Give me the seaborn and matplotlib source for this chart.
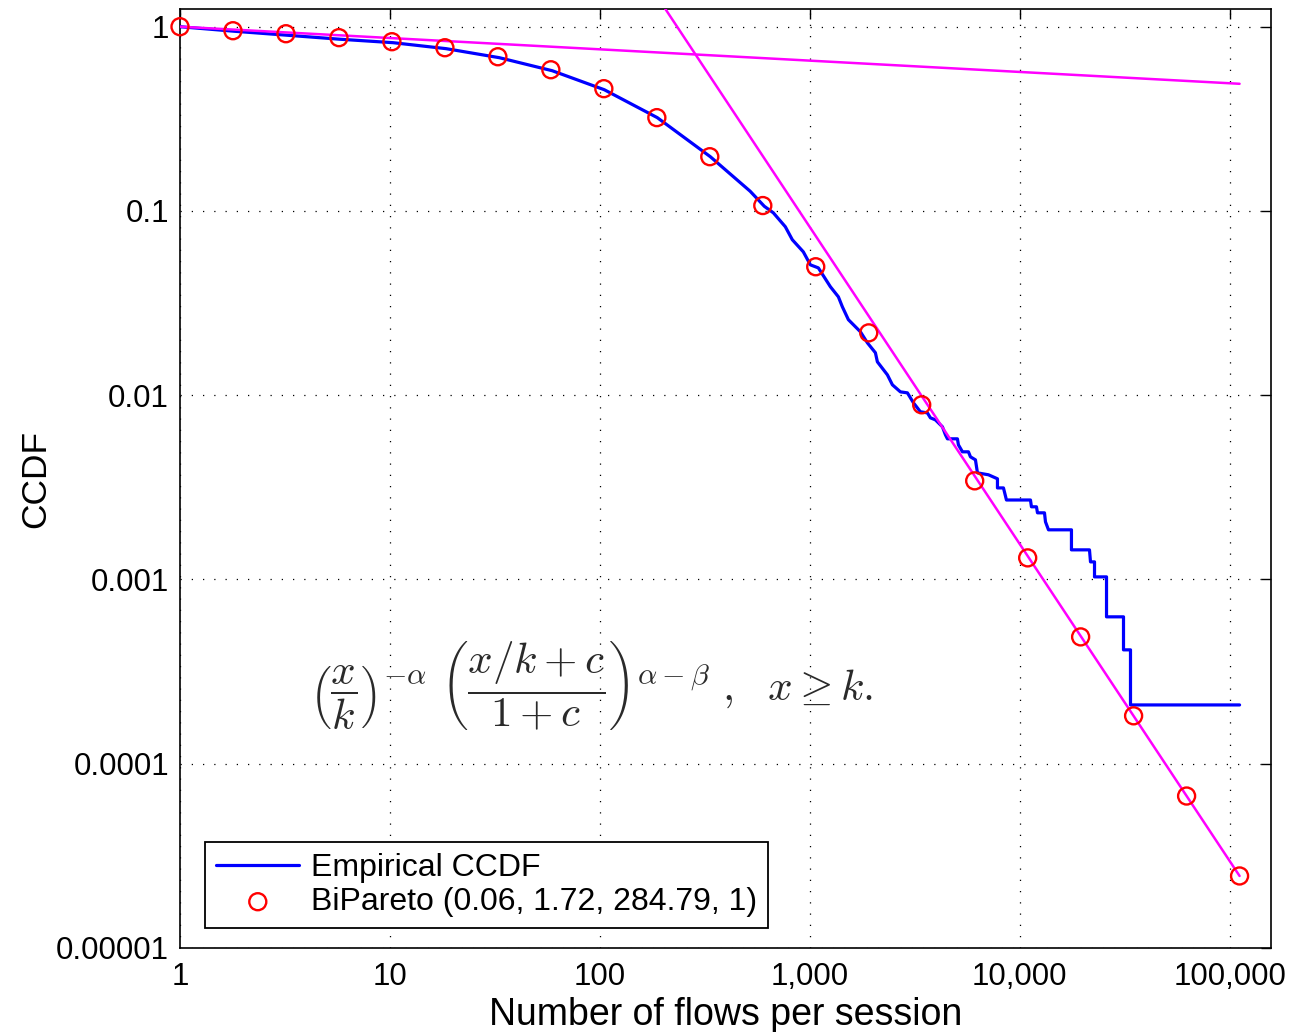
import numpy as np
import pandas as pd
import matplotlib
matplotlib.use("Agg")
import matplotlib.pyplot as plt
from matplotlib.ticker import NullLocator
import seaborn as sns

# ---- data ----
# BiPareto fitted points (red circles)
fit_x = [1.0, 1.788, 3.197, 5.717, 10.22, 18.28, 32.68, 58.44, 104.5, 186.9, 334.1,
         597.5, 1068, 1910, 3415, 6107, 10920, 19520, 34900, 62420, 111600]
fit_y = [1.0, 0.951, 0.916, 0.872, 0.829, 0.769, 0.687, 0.584, 0.461, 0.321, 0.197,
         0.107, 0.0498, 0.0218, 0.00887, 0.00343, 0.00131, 0.000488, 0.000182,
         6.68e-5, 2.46e-5]

# Empirical CCDF (blue), vertices of the trace
emp_x = [1, 1.809, 3.236, 5.79, 10.36, 18.53, 33.2, 59.3, 105, 187.8,
         336, 520, 607.6, 670.8, 765, 826, 932, 1007, 1099, 1254,
         1369, 1430, 1528, 1743, 1882, 2055, 2100, 2344, 2476, 2703,
         2919, 3118, 3367, 3635, 3756, 3968, 4286, 4429, 4528, 5052,
         5108, 5339, 5702, 5829, 6157, 6294, 7100, 7839, 7839, 8372,
         8651, 11260, 11380, 12023, 12160, 13130, 13275, 13720, 17650, 17650,
         21510, 21750, 22730, 22730, 25930, 25930, 31240, 31240, 33730, 33730,
         111600]
emp_y = [1.0, 0.945, 0.899, 0.855, 0.819, 0.760, 0.679, 0.577, 0.455, 0.321,
         0.197, 0.128, 0.106, 0.0977, 0.0821, 0.0698, 0.0600, 0.0510, 0.0491, 0.0388,
         0.0342, 0.0302, 0.0257, 0.0221, 0.01925, 0.0170, 0.01518, 0.01290, 0.01139, 0.01043,
         0.01030, 0.00910, 0.00813, 0.00802, 0.00754, 0.00735, 0.00674, 0.00610, 0.00580, 0.00580,
         0.00538, 0.00493, 0.00493, 0.00463, 0.00446, 0.00379, 0.00370, 0.00352, 0.00314, 0.00314,
         0.00270, 0.00270, 0.00248, 0.00248, 0.00230, 0.00230, 0.002055, 0.00186, 0.00186, 0.001448,
         0.001448, 0.001246, 0.001246, 0.001033, 0.001033, 0.000627, 0.000627, 0.000415, 0.000415, 0.0002085,
         0.0002085]

# Asymptote lines (magenta)
asym_low_x = [1.0, 111600]
asym_low_y = [1.0, 0.49]
asym_high_x = [156, 111600]
asym_high_y = [2.0, 2.46e-5]

x_ticks = [1, 10, 100, 1000, 10000, 100000]
x_tick_labels = ["1", "10", "100", "1,000", "10,000", "100,000"]
y_ticks = [1e-5, 1e-4, 1e-3, 1e-2, 1e-1, 1]
y_tick_labels = ["0.00001", "0.0001", "0.001", "0.01", "0.1", "1"]

legend_emp = "Empirical CCDF"
legend_fit = "BiPareto (0.06, 1.72, 284.79, 1)"
x_label = "Number of flows per session"
y_label = "CCDF"
equation = (r"$\left(\dfrac{x}{k}\right)^{-\alpha}\ \left(\dfrac{x/k+c}{1+c}\right)^{\alpha-\beta}"
            r"\ ,\ \ x\geq k.$")

# ---- style ----
sns.set_theme(style="white")
plt.rcParams['font.family'] = ['Liberation Sans', 'DejaVu Sans']
plt.rcParams['mathtext.fontset'] = 'cm'
plt.rcParams['text.color'] = 'black'
plt.rcParams['axes.labelcolor'] = 'black'

fig = plt.figure(figsize=(12.92, 10.32), dpi=100)
ax = fig.add_axes([0.13932, 0.08140, 0.98351 - 0.13932, 0.99099 - 0.08140])

emp = pd.DataFrame({"x": emp_x, "y": emp_y})
sns.lineplot(data=emp, x="x", y="y", sort=False, estimator=None, color="#0000ff",
             lw=2.3, ax=ax, label=legend_emp, zorder=3)
sns.lineplot(x=asym_low_x, y=asym_low_y, sort=False, estimator=None, color="#ff00ff",
             lw=1.8, ax=ax, legend=False, zorder=4)
sns.lineplot(x=asym_high_x, y=asym_high_y, sort=False, estimator=None, color="#ff00ff",
             lw=1.8, ax=ax, legend=False, zorder=4)
sns.scatterplot(x=fit_x, y=fit_y, marker="o", s=150, facecolor="none",
                edgecolor="#ff0000", linewidth=1.7, ax=ax, label=legend_fit,
                clip_on=False, zorder=5)
pts = ax.collections[-1]
pts.set_facecolor("none")
pts.set_edgecolor("#ff0000")

ax.set_xscale("log")
ax.set_yscale("log")
ax.set_xlim(1, 157000)
ax.set_ylim(1e-5, 1.243)
ax.set_xticks(x_ticks)
ax.set_xticklabels(x_tick_labels)
ax.set_yticks(y_ticks)
ax.set_yticklabels(y_tick_labels)
ax.xaxis.set_minor_locator(NullLocator())
ax.yaxis.set_minor_locator(NullLocator())

ax.tick_params(which="major", direction="in", length=7, width=1.0, top=True, right=True,
               labelsize=22.5, colors="black")
ax.tick_params(axis="x", pad=10)
ax.tick_params(axis="y", pad=8)
ax.grid(True, which="major", linestyle=(0, (1, 8)), color="black", lw=0.9)
for sp in ax.spines.values():
    sp.set_color("black")
    sp.set_linewidth(1.2)

ax.set_xlabel(x_label, fontsize=27, color="black")
ax.set_ylabel(y_label, fontsize=25.5, color="black")
ax.xaxis.set_label_coords(0.5, -0.052)
ax.yaxis.set_label_coords(-0.117, 0.5)

ax.text(0.119, 0.28, equation, transform=ax.transAxes, fontsize=31,
        ha="left", va="center", color="#2a2a2a")

handles, labels = ax.get_legend_handles_labels()
leg = ax.legend(handles, labels, loc="lower left", bbox_to_anchor=(0.023, 0.021),
                borderaxespad=0, fontsize=23, frameon=True, fancybox=False,
                framealpha=1, edgecolor="black", handlelength=2.6, handletextpad=0.35,
                borderpad=0.35, labelspacing=0.12)
leg.get_frame().set_linewidth(1.3)
for t in leg.get_texts():
    t.set_color("black")

fig.savefig("out.png", dpi=100)
